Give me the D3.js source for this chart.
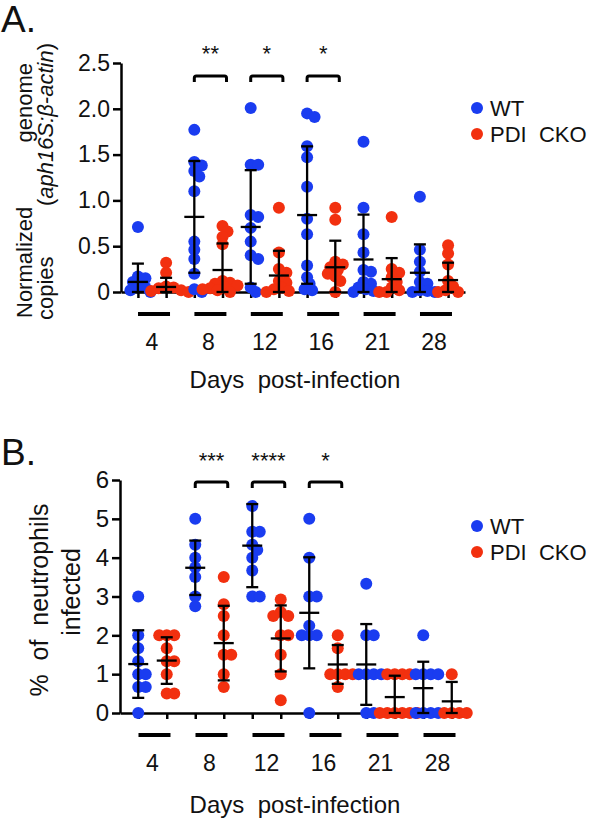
<!DOCTYPE html>
<html>
<head>
<meta charset="utf-8">
<script src="https://cdn.jsdelivr.net/npm/d3@7"></script>
<style>
  body { margin: 0; background: #fff; }
  text { font-family: "Liberation Sans", Arial, Helvetica, sans-serif; white-space: pre; }
</style>
</head>
<body>
<script>
// days and groups
const days = ["4", "8", "12", "16", "21", "28"];
const groups = ["WT", "PDI  CKO"];
const colors = ["#1a3cf0", "#f2300f"];

// A. normalized genome copies, one list per day
const genomeWT = [
  [0.71, 0.17, 0.15, 0.11, 0.06, 0.05, 0.02, 0.0],
  [1.77, 1.42, 1.38, 1.32, 1.26, 1.10, 0.55, 0.46, 0.36, 0.20, 0.03, 0.0],
  [2.01, 1.39, 1.39, 0.84, 0.82, 0.70, 0.55, 0.40, 0.36, 0.05, 0.0],
  [1.95, 1.91, 1.59, 1.47, 1.15, 0.80, 0.63, 0.29, 0.16, 0.09, 0.03, 0.02],
  [1.64, 0.92, 0.63, 0.43, 0.24, 0.22, 0.11, 0.09, 0.05, 0.03, 0.01, 0.0],
  [1.04, 0.46, 0.33, 0.22, 0.11, 0.09, 0.02, 0.01, 0.0, 0.0]
];
const genomePDI = [
  [0.32, 0.21, 0.06, 0.05, 0.04, 0.02, 0.01, 0.0],
  [0.72, 0.66, 0.60, 0.52, 0.12, 0.10, 0.09, 0.07, 0.05, 0.04, 0.03, 0.02, 0.0],
  [0.92, 0.43, 0.25, 0.21, 0.12, 0.10, 0.05, 0.03, 0.01, 0.0],
  [0.92, 0.79, 0.33, 0.30, 0.27, 0.24, 0.20, 0.17, 0.12, 0.0],
  [0.82, 0.25, 0.21, 0.16, 0.11, 0.05, 0.02, 0.0, 0.0],
  [0.51, 0.42, 0.30, 0.12, 0.06, 0.02, 0.0, 0.0]
];
const genomeMeanWT = [0.11, 0.82, 0.71, 0.84, 0.355, 0.21];
const genomeSdWT = [0.20, 0.61, 0.62, 0.75, 0.49, 0.31];
const genomeMeanPDI = [0.055, 0.24, 0.18, 0.27, 0.14, 0.13];
const genomeSdPDI = [0.10, 0.29, 0.27, 0.29, 0.23, 0.19];
const genomeStars = [null, "**", "*", "*", null, null];

// B. % of neutrophils infected, one list per day
const neutroWT = [
  [3, 2, 1.67, 1.33, 1, 1, 0.67, 0.67, 0],
  [5, 4.33, 4, 3.75, 3.5, 3, 2.75],
  [5.33, 4.67, 4.67, 4.33, 4.2, 4, 3.67, 3, 3],
  [5, 4, 3, 3, 2.25, 2, 2, 2, 0],
  [3.33, 2, 2, 1, 1, 1, 1, 0, 0],
  [2, 1, 1, 1, 1, 0, 0, 0, 0]
];
const neutroPDI = [
  [2, 2, 2, 1.67, 1.33, 1.33, 1, 0.5, 0.5],
  [3.5, 2.8, 2.5, 2, 1.5, 1.5, 1, 0.67],
  [2.92, 2.6, 2.5, 2.5, 2, 2, 1.5, 1, 0.33],
  [2, 1.67, 1, 1, 1, 1, 0.67],
  [1, 1, 1, 1, 0, 0, 0, 0, 0, 0],
  [1, 0, 0, 0, 0]
];
const neutroMeanWT = [1.26, 3.74, 4.31, 2.58, 1.25, 0.64];
const neutroSdWT = [0.87, 0.70, 1.07, 1.43, 1.04, 0.68];
const neutroMeanPDI = [1.35, 1.80, 1.92, 1.25, 0.41, 0.30];
const neutroSdPDI = [0.60, 0.96, 0.85, 0.50, 0.55, 0.50];
const neutroStars = [null, "***", "****", "*", null, null];

const keys = days.flatMap(d => [d + "-WT", d + "-PDI"]);

const svg = d3.select("body").append("svg")
    .attr("width", 600)
    .attr("height", 820);

// simple beeswarm: spread points sideways so they do not pile up
function swarm(values, cx, y, minDist, step) {
  const placed = [];
  values.slice().sort((a, b) => b - a).forEach(v => {
    const py = y(v);
    for (let k = 0; k < 40; k++) {
      const off = (k % 2 === 1 ? 1 : -1) * Math.ceil(k / 2) * step;
      const px = cx + off;
      if (placed.every(p => (p.x - px) ** 2 + (p.y - py) ** 2 >= minDist * minDist)) {
        placed.push({x: px, y: py});
        break;
      }
    }
  });
  return placed;
}

function panel(cfg) {
  const g = svg.append("g");
  const x = d3.scalePoint().domain(keys).range(cfg.xRange).padding(cfg.pad);
  const y = d3.scaleLinear().domain([0, cfg.yMax]).range([cfg.y0, cfg.yTop]);

  // y axis
  const ya = g.append("g")
    .attr("transform", `translate(${cfg.xRange[0]},0)`)
    .call(d3.axisLeft(y).tickValues(cfg.yTicks).tickFormat(cfg.yFormat)
      .tickSize(8).tickSizeOuter(0).tickPadding(3));
  ya.selectAll("path, line").attr("stroke", "#000").attr("stroke-width", 2.5);
  ya.selectAll("text").attr("font-size", cfg.tickFont).attr("fill", "#111")
    .style("font-family", "'Liberation Sans', Arial, sans-serif");

  // x axis with small ticks under each column
  const xa = g.append("g")
    .attr("transform", `translate(0,${cfg.y0})`)
    .call(d3.axisBottom(x).tickSize(6).tickSizeOuter(0).tickFormat(""));
  xa.selectAll("path, line").attr("stroke", "#000").attr("stroke-width", 2.5);

  // dots
  days.forEach((d, i) => {
    [cfg.wt[i], cfg.pdi[i]].forEach((vals, j) => {
      const cx = x(d + (j === 0 ? "-WT" : "-PDI"));
      g.append("g").selectAll("circle")
        .data(swarm(vals, cx, y, 6.5, 2.5))
        .join("circle")
        .attr("cx", p => p.x)
        .attr("cy", p => p.y)
        .attr("r", 6)
        .attr("fill", colors[j]);
    });
  });

  // mean +/- SD
  days.forEach((d, i) => {
    [[cfg.meanWT[i], cfg.sdWT[i], "-WT"], [cfg.meanPDI[i], cfg.sdPDI[i], "-PDI"]].forEach(([m, s, k]) => {
      const cx = x(d + k);
      const lo = y(Math.max(0, m - s)), hi = y(m + s), my = y(m);
      const eb = g.append("g").attr("stroke", "#000").attr("stroke-width", 2.3);
      eb.append("line").attr("x1", cx).attr("x2", cx).attr("y1", lo).attr("y2", hi);
      eb.append("line").attr("x1", cx - 6).attr("x2", cx + 6).attr("y1", hi).attr("y2", hi);
      eb.append("line").attr("x1", cx - 6).attr("x2", cx + 6).attr("y1", lo).attr("y2", lo);
      eb.append("line").attr("x1", cx - 10).attr("x2", cx + 10).attr("y1", my).attr("y2", my);
    });
  });

  // day group bars and labels
  days.forEach(d => {
    const c = (x(d + "-WT") + x(d + "-PDI")) / 2;
    g.append("line")
      .attr("x1", c - 14).attr("x2", c + 18)
      .attr("y1", cfg.y0 + 22).attr("y2", cfg.y0 + 22)
      .attr("stroke", "#000").attr("stroke-width", 4);
    g.append("text")
      .attr("x", c).attr("y", cfg.y0 + 58)
      .attr("text-anchor", "middle")
      .attr("font-size", 23)
      .attr("fill", "#111")
      .text(d);
  });

  g.append("text")
    .attr("x", 295).attr("y", cfg.y0 + cfg.titleDy)
    .attr("text-anchor", "middle")
    .attr("font-size", 24)
    .attr("fill", "#111")
    .text("Days  post-infection");

  // significance brackets
  days.forEach((d, i) => {
    if (!cfg.stars[i]) return;
    const x1 = x(d + "-WT"), x2 = x(d + "-PDI") + 4;
    const by = cfg.bracketY;
    g.append("path")
      .attr("d", `M${x1},${by + 6} L${x1},${by + 2} Q${x1},${by} ${x1 + 2},${by} L${x2 - 2},${by} Q${x2},${by} ${x2},${by + 2} L${x2},${by + 6}`)
      .attr("fill", "none").attr("stroke", "#000").attr("stroke-width", 3);
    g.append("text")
      .attr("x", (x1 + x2) / 2).attr("y", cfg.starY)
      .attr("text-anchor", "middle")
      .attr("font-size", 22)
      .attr("fill", "#111")
      .text(cfg.stars[i]);
  });

  // legend
  groups.forEach((name, j) => {
    const ly = cfg.legendY + j * 26;
    g.append("circle").attr("cx", 477).attr("cy", ly).attr("r", 6).attr("fill", colors[j]);
    g.append("text")
      .attr("x", 490).attr("y", ly + 8)
      .attr("font-size", 22)
      .attr("fill", "#111")
      .text(name);
  });

  // panel letter
  g.append("text")
    .attr("x", 1).attr("y", cfg.letterY)
    .attr("font-size", 37)
    .attr("fill", "#111")
    .text(cfg.letter);

  return g;
}

const gA = panel({
  letter: "A.", letterY: 32,
  wt: genomeWT, pdi: genomePDI,
  meanWT: genomeMeanWT, sdWT: genomeSdWT, meanPDI: genomeMeanPDI, sdPDI: genomeSdPDI,
  stars: genomeStars,
  xRange: [121, 465], pad: 0.6,
  y0: 292, yTop: 63, yMax: 2.5,
  yTicks: [0, 0.5, 1, 1.5, 2, 2.5],
  yFormat: v => v === 0 ? "0" : d3.format(".1f")(v),
  tickFont: 23,
  titleDy: 96,
  bracketY: 76, starY: 61,
  legendY: 108
});

const gB = panel({
  letter: "B.", letterY: 465,
  wt: neutroWT, pdi: neutroPDI,
  meanWT: neutroMeanWT, sdWT: neutroSdWT, meanPDI: neutroMeanPDI, sdPDI: neutroSdPDI,
  stars: neutroStars,
  xRange: [120, 470], pad: 0.64,
  y0: 713, yTop: 480, yMax: 6,
  yTicks: [0, 1, 2, 3, 4, 5, 6],
  yFormat: d3.format("d"),
  tickFont: 24,
  titleDy: 100,
  bracketY: 482, starY: 468,
  legendY: 526
});

// y axis titles
const la = gA.append("g").attr("font-size", 22).attr("fill", "#111");
la.append("text").attr("transform", "translate(32,318) rotate(-90)").text("Normalized");
la.append("text").attr("transform", "translate(32,63) rotate(-90)").attr("text-anchor", "end").text("genome");
la.append("text").attr("transform", "translate(53,320) rotate(-90)").text("copies");
const l2 = la.append("text").attr("transform", "translate(53,43) rotate(-90)").attr("text-anchor", "end");
l2.append("tspan").text("(");
l2.append("tspan").attr("font-style", "italic").text("aph16S:β-actin");
l2.append("tspan").text(")");

const lb = gB.append("g").attr("font-size", 25).attr("fill", "#111").attr("text-anchor", "middle");
lb.append("text").attr("transform", "translate(48,600) rotate(-90)").text("%  of  neutrophils");
lb.append("text").attr("transform", "translate(80,592) rotate(-90)").text("infected");
</script>
</body>
</html>
